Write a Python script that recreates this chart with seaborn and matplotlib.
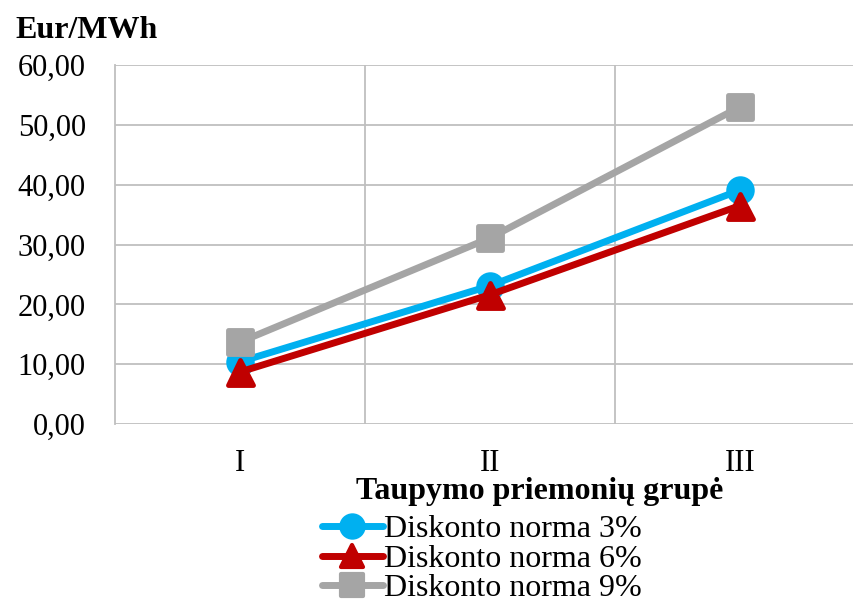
import matplotlib
matplotlib.use("Agg")
import matplotlib.pyplot as plt
from matplotlib.markers import MarkerStyle
from matplotlib.lines import Line2D
import seaborn as sns
import pandas as pd

categories = ["I", "II", "III"]
series_names = ["Diskonto norma 3%", "Diskonto norma 6%", "Diskonto norma 9%"]
rate_3 = [10.4, 23.1, 39.1]
rate_6 = [8.7, 21.6, 36.5]
rate_9 = [13.7, 31.1, 53.0]
y_ticks = [0, 10, 20, 30, 40, 50, 60]

colors = ["#00B0F0", "#C00000", "#A5A5A5"]
markers = ["o", "^", "s"]

rows = []
for name, vals in zip(series_names, [rate_3, rate_6, rate_9]):
    for i, v in enumerate(vals):
        rows.append({"pos": i, "cat": categories[i], "series": name, "value": v})
df = pd.DataFrame(rows)

sns.set_theme(style="white")
plt.rcParams["font.family"] = ["Liberation Serif", "DejaVu Serif"]
plt.rcParams["text.color"] = "black"

fig = plt.figure(figsize=(8.54, 6.0), dpi=100)
ax = fig.add_axes([115 / 854, 176 / 600, 750 / 854, 359 / 600])

sns.lineplot(data=df, x="pos", y="value", hue="series", palette=colors,
             hue_order=series_names, ax=ax, linewidth=5, legend=False,
             sort=False)

for line, mk, c in zip(ax.lines, markers, colors):
    line.set_marker(MarkerStyle(mk, joinstyle="round"))
    line.set_markersize(17 if mk != "^" else 18)
    line.set_markerfacecolor(c)
    line.set_markeredgecolor(c)
    line.set_markeredgewidth(3.5)
    line.set_solid_capstyle("round")
    line.set_solid_joinstyle("round")

ax.set_xlim(-0.5, 2.5)
ax.set_ylim(0, 60)
ax.set_yticks(y_ticks)
ax.set_yticklabels([f"{t:.2f}".replace(".", ",") for t in y_ticks])
ax.set_xticks(range(len(categories)))
ax.set_xticklabels(categories)
ax.set_xticks([0.5, 1.5], minor=True)

ax.grid(True, which="major", axis="y", color="#BFBFBF", linewidth=1.3)
ax.grid(True, which="minor", axis="x", color="#BFBFBF", linewidth=1.3)
ax.set_axisbelow(True)
for s in ["top", "right", "bottom"]:
    ax.spines[s].set_visible(False)
ax.spines["left"].set_color("#BFBFBF")
ax.spines["left"].set_linewidth(1.3)

ax.tick_params(axis="y", length=0, pad=21, labelsize=22, colors="black")
ax.tick_params(axis="x", which="both", length=0, pad=18, labelsize=22, colors="black")
ax.set_xlabel("")
ax.set_ylabel("")

fig.text(15 / 854, 1 - 31 / 600, "Eur/MWh", fontsize=23, fontweight="bold",
         ha="left", va="center")
fig.text(540 / 854, 1 - 491 / 600, "Taupymo priemonių grupė", fontsize=23,
         fontweight="bold", ha="center", va="center")

handles = []
for name, mk, c in zip(series_names, markers, colors):
    handles.append(Line2D([0], [0], color=c, linewidth=5,
                          marker=MarkerStyle(mk, joinstyle="round"),
                          markersize=16, markerfacecolor=c,
                          markeredgecolor=c, markeredgewidth=3,
                          solid_capstyle="round", label=name))
leg = fig.legend(handles=handles, loc="upper left",
                 bbox_to_anchor=(322 / 854, 1 - 515 / 600), frameon=False,
                 fontsize=23, handlelength=1.9, handletextpad=0.05,
                 labelspacing=0.0, borderpad=0, borderaxespad=0)

fig.savefig("out.png", dpi=100)
